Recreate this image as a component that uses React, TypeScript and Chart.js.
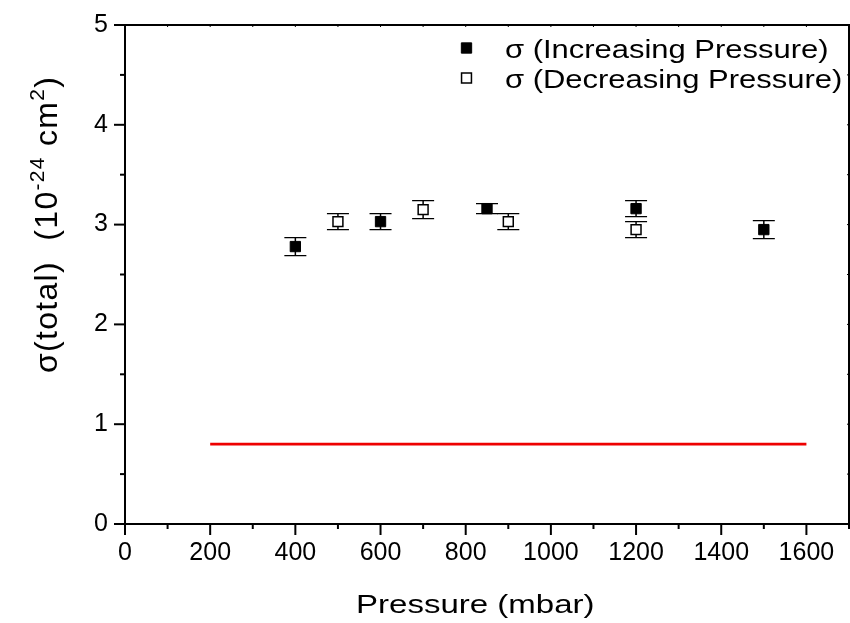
import React, { useEffect, useRef } from "react";
import { Chart, registerables } from "chart.js";

Chart.register(...registerables);

const FONT = "'Liberation Sans', Arial, Helvetica, sans-serif";

// ---- data ----
const incPressure = [400, 600, 850, 1200, 1500];
const incSigma = [2.78, 3.03, 3.16, 3.16, 2.95];
const incError = [0.09, 0.08, 0.05, 0.08, 0.09];

const decPressure = [500, 700, 900, 1200];
const decSigma = [3.03, 3.15, 3.03, 2.95];
const decError = [0.08, 0.09, 0.08, 0.08];

const refPressure = [200, 1600];
const refSigma = [0.8, 0.8];

const xMajorTicks = [0, 200, 400, 600, 800, 1000, 1200, 1400, 1600];
const yMajorTicks = [0, 1, 2, 3, 4, 5];
const X_MIN = 0;
const X_MAX = 1700;
const X_MINOR_STEP = 100;
const Y_MIN = 0;
const Y_MAX = 5;
const Y_MINOR_STEP = 0.5;

const incLabel = "σ (Increasing Pressure)";
const decLabel = "σ (Decreasing Pressure)";
const xTitle = "Pressure (mbar)";
const yTitleParts = [
  { t: "σ(total)  (10", sup: false },
  { t: "-24", sup: true },
  { t: " cm", sup: false },
  { t: "2", sup: true },
  { t: ")", sup: false },
];

const errorBarPlugin = {
  id: "errorBars",
  beforeDatasetsDraw(chart: any) {
    const ctx = chart.ctx;
    const ys = chart.scales.y;
    chart.data.datasets.forEach((ds: any, i: number) => {
      if (!ds.errors) return;
      const meta = chart.getDatasetMeta(i);
      ctx.save();
      ctx.strokeStyle = "#000";
      meta.data.forEach((pt: any, j: number) => {
        const v = ds.data[j].y;
        const e = ds.errors[j];
        const yt = ys.getPixelForValue(v + e);
        const yb = ys.getPixelForValue(v - e);
        const x = pt.x;
        ctx.lineWidth = 1.5;
        ctx.beginPath();
        ctx.moveTo(x, yt);
        ctx.lineTo(x, yb);
        ctx.stroke();
        ctx.lineWidth = 1.3;
        ctx.beginPath();
        ctx.moveTo(x - 11, yt);
        ctx.lineTo(x + 11, yt);
        ctx.moveTo(x - 11, yb);
        ctx.lineTo(x + 11, yb);
        ctx.stroke();
      });
      ctx.restore();
    });
  },
};

const framePlugin = {
  id: "frame",
  afterDraw(chart: any) {
    const ctx = chart.ctx;
    const { left, right, top, bottom } = chart.chartArea;
    const xs = chart.scales.x;
    const ys = chart.scales.y;
    ctx.save();
    ctx.strokeStyle = "#000";
    ctx.lineWidth = 2;
    ctx.beginPath();
    ctx.moveTo(left, top);
    ctx.lineTo(right, top);
    ctx.lineTo(right, bottom);
    ctx.lineTo(left, bottom);
    ctx.closePath();
    ctx.stroke();
    for (let v = X_MIN; v <= X_MAX + 1e-9; v += X_MINOR_STEP) {
      const px = xs.getPixelForValue(v);
      const major = xMajorTicks.includes(v);
      ctx.beginPath();
      ctx.moveTo(px, bottom);
      ctx.lineTo(px, bottom + (major ? 11 : 5));
      ctx.stroke();
      ctx.save();
      ctx.lineWidth = 1;
      ctx.beginPath();
      ctx.moveTo(px, top);
      ctx.lineTo(px, top + 2);
      ctx.stroke();
      ctx.restore();
    }
    for (let v = Y_MIN; v <= Y_MAX + 1e-9; v += Y_MINOR_STEP) {
      const py = ys.getPixelForValue(v);
      const major = yMajorTicks.includes(v);
      ctx.beginPath();
      ctx.moveTo(left, py);
      ctx.lineTo(left - (major ? 11 : 5), py);
      ctx.stroke();
      ctx.save();
      ctx.lineWidth = 1;
      ctx.beginPath();
      ctx.moveTo(right, py);
      ctx.lineTo(right - 2, py);
      ctx.stroke();
      ctx.restore();
    }
    ctx.restore();
  },
};

function drawMarker(ctx: any, x: number, y: number, ds: any) {
  const half = Math.SQRT1_2 * ds.pointRadius;
  ctx.save();
  ctx.fillStyle = ds.backgroundColor;
  ctx.strokeStyle = ds.borderColor;
  ctx.lineWidth = ds.borderWidth;
  ctx.beginPath();
  ctx.rect(x - half, y - half, 2 * half, 2 * half);
  ctx.fill();
  ctx.stroke();
  ctx.restore();
}

function stretchedText(ctx: any, text: string, x: number, y: number, sx: number) {
  ctx.save();
  ctx.translate(x, y);
  ctx.scale(sx, 1);
  ctx.fillText(text, 0, 0);
  ctx.restore();
}

const legendTitlesPlugin = {
  id: "legendTitles",
  afterDraw(chart: any) {
    const ctx = chart.ctx;
    const { left, top, bottom } = chart.chartArea;
    ctx.save();
    ctx.fillStyle = "#000";
    ctx.textAlign = "left";
    ctx.textBaseline = "alphabetic";
    const dsInc = chart.data.datasets[0];
    const dsDec = chart.data.datasets[1];
    const lx = left + 341.5;
    const rows = [
      { ds: dsInc, y: top + 23 },
      { ds: dsDec, y: top + 53 },
    ];
    rows.forEach((r) => {
      drawMarker(ctx, lx, r.y, r.ds);
      ctx.font = `26px ${FONT}`;
      stretchedText(ctx, r.ds.label, lx + 38.5, r.y + 9.5, 1.19);
    });
    // x title
    ctx.font = `26px ${FONT}`;
    stretchedText(ctx, xTitle, left + 231, bottom + 89, 1.27);
    // y title
    ctx.translate(57, 373);
    ctx.rotate(-Math.PI / 2);
    (ctx as any).letterSpacing = "1.3px";
    let cx = 0;
    yTitleParts.forEach((p) => {
      ctx.font = p.sup ? `21px ${FONT}` : `32px ${FONT}`;
      ctx.fillText(p.t, cx, p.sup ? -13 : 0);
      cx += ctx.measureText(p.t).width;
    });
    ctx.restore();
  },
};

export default function App() {
  const ref = useRef<HTMLCanvasElement | null>(null);
  useEffect(() => {
    if (!ref.current) return;
    const noPad = (s: any) => {
      s.paddingTop = 0;
      s.paddingBottom = 0;
      s.paddingLeft = 0;
      s.paddingRight = 0;
    };
    const chart = new Chart(ref.current, {
      type: "scatter",
      data: {
        datasets: [
          {
            label: incLabel,
            data: incPressure.map((x, i) => ({ x, y: incSigma[i] })),
            errors: incError,
            pointStyle: "rect",
            pointRadius: 7.3,
            backgroundColor: "#000",
            borderColor: "#000",
            borderWidth: 1,
          } as any,
          {
            label: decLabel,
            data: decPressure.map((x, i) => ({ x, y: decSigma[i] })),
            errors: decError,
            pointStyle: "rect",
            pointRadius: 7,
            backgroundColor: "#fff",
            borderColor: "#000",
            borderWidth: 1.5,
          } as any,
          {
            label: "reference",
            data: refPressure.map((x, i) => ({ x, y: refSigma[i] })),
            showLine: true,
            pointRadius: 0,
            borderColor: "#ee0000",
            borderWidth: 2.6,
          } as any,
        ],
      },
      options: {
        animation: false,
        responsive: false,
        devicePixelRatio: 1,
        layout: { autoPadding: false, padding: { top: 25, right: 1, left: 0, bottom: 0 } },
        plugins: { legend: { display: false }, tooltip: { enabled: false } },
        scales: {
          x: {
            type: "linear",
            min: X_MIN,
            max: X_MAX,
            afterBuildTicks: (s: any) => {
              s.ticks = xMajorTicks.map((v) => ({ value: v }));
            },
            afterFit: (s: any) => {
              s.height = 99;
              noPad(s);
            },
            grid: { display: false, drawTicks: false, tickLength: 0 },
            border: { display: false },
            ticks: {
              color: "#000",
              font: { family: FONT, size: 25 },
              padding: 14,
              maxRotation: 0,
              autoSkip: false,
              callback: (v: any) => String(v),
            },
          },
          y: {
            type: "linear",
            min: Y_MIN,
            max: Y_MAX,
            afterBuildTicks: (s: any) => {
              s.ticks = yMajorTicks.map((v) => ({ value: v }));
            },
            afterFit: (s: any) => {
              s.width = 125;
              noPad(s);
            },
            grid: { display: false, drawTicks: false, tickLength: 0 },
            border: { display: false },
            ticks: {
              color: "#000",
              font: { family: FONT, size: 25 },
              padding: 17,
              autoSkip: false,
              callback: (v: any) => String(v),
            },
          },
        },
      },
      plugins: [errorBarPlugin, framePlugin, legendTitlesPlugin],
    } as any);
    return () => chart.destroy();
  }, []);
  return (
    <div style={{ position: "fixed", left: 0, top: 0, width: 850, height: 623, background: "#fff" }}>
      <canvas ref={ref} width={850} height={623} style={{ width: 850, height: 623 }} />
    </div>
  );
}
